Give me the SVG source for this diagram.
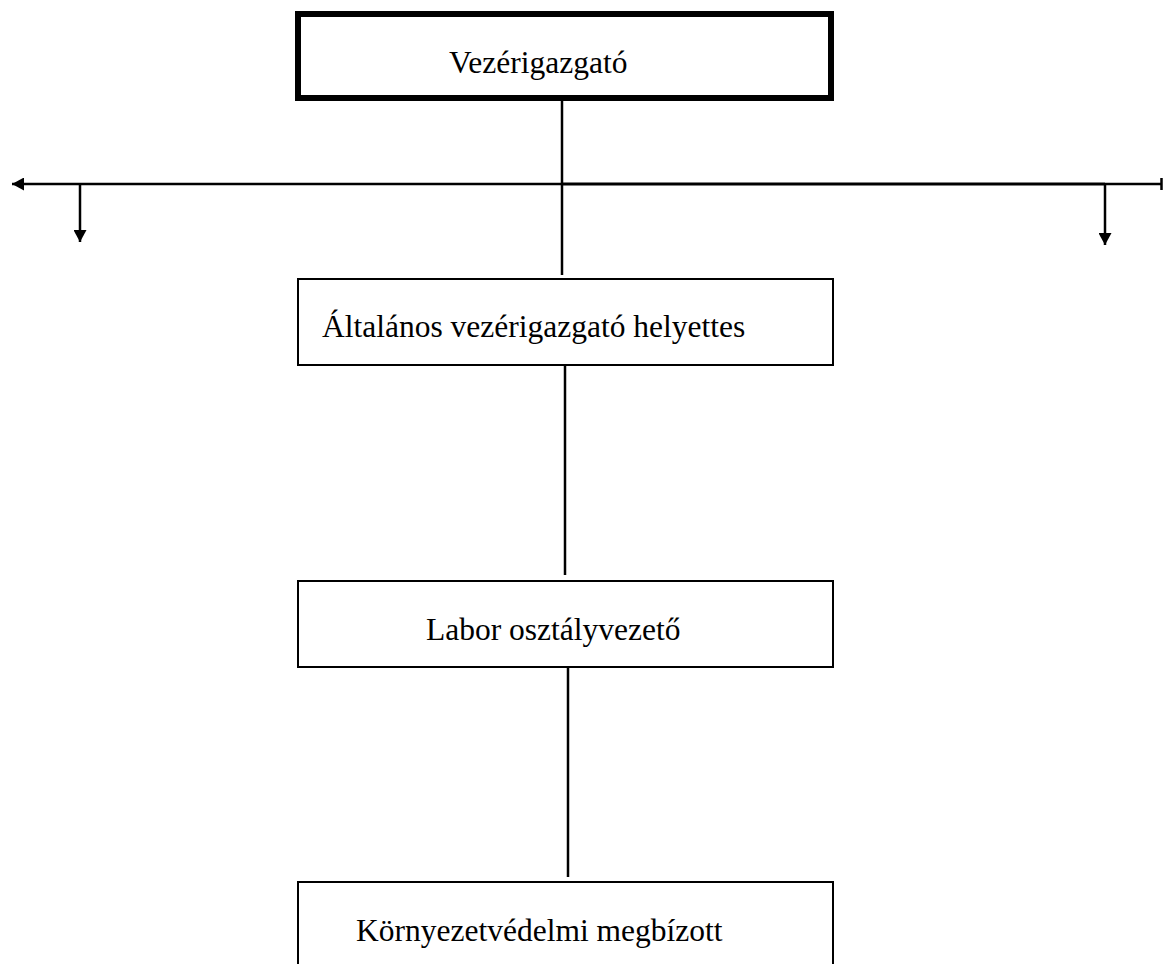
<svg xmlns="http://www.w3.org/2000/svg" width="1163" height="964" viewBox="0 0 1163 964">
<style>
.box{fill:#fff;stroke:#000;stroke-width:2}
.thick{fill:#fff;stroke:#000;stroke-width:6}
.lbl{font-family:"Liberation Serif","Times New Roman",serif;font-size:31.5px;fill:#000}
.ln{stroke:#000;stroke-width:2.5;fill:none}
</style>
<defs>
<marker id="ah" viewBox="0 0 12 13" refX="12" refY="6.5" markerWidth="12" markerHeight="13" markerUnits="userSpaceOnUse" orient="auto">
<path d="M0,0 L12,6.5 L0,13 Z" fill="#000"/>
</marker>
</defs>
<rect width="1163" height="964" fill="#fff"/>
<g id="connectors">
<line class="ln" x1="562" y1="98" x2="562" y2="275"/>
<line class="ln" x1="562" y1="184" x2="12" y2="184" marker-end="url(#ah)"/>
<line x1="562" y1="184" x2="1105" y2="184" stroke="#000" stroke-width="3"/>
<line class="ln" x1="1105" y1="184" x2="1162" y2="184" stroke-width="2"/>
<line class="ln" x1="1161.5" y1="178" x2="1161.5" y2="190" stroke-width="2"/>
<line class="ln" x1="80" y1="184" x2="80" y2="242" marker-end="url(#ah)"/>
<line class="ln" x1="1105" y1="184" x2="1105" y2="245" marker-end="url(#ah)"/>
<line class="ln" x1="565" y1="366" x2="565" y2="575"/>
<line class="ln" x1="568" y1="668" x2="568" y2="877"/>
</g>
<g id="n1">
<rect class="thick" x="298" y="14" width="533" height="84"/>
<text class="lbl" x="449" y="73">Vezérigazgató</text>
</g>
<g id="n2">
<rect class="box" x="298" y="279" width="535" height="86"/>
<text class="lbl" x="322" y="337">Általános vezérigazgató helyettes</text>
</g>
<g id="n3">
<rect class="box" x="298" y="581" width="535" height="86"/>
<text class="lbl" x="426" y="640">Labor osztályvezető</text>
</g>
<g id="n4">
<rect class="box" x="298" y="882" width="535" height="120"/>
<text class="lbl" x="356" y="941">Környezetvédelmi megbízott</text>
</g>
</svg>
